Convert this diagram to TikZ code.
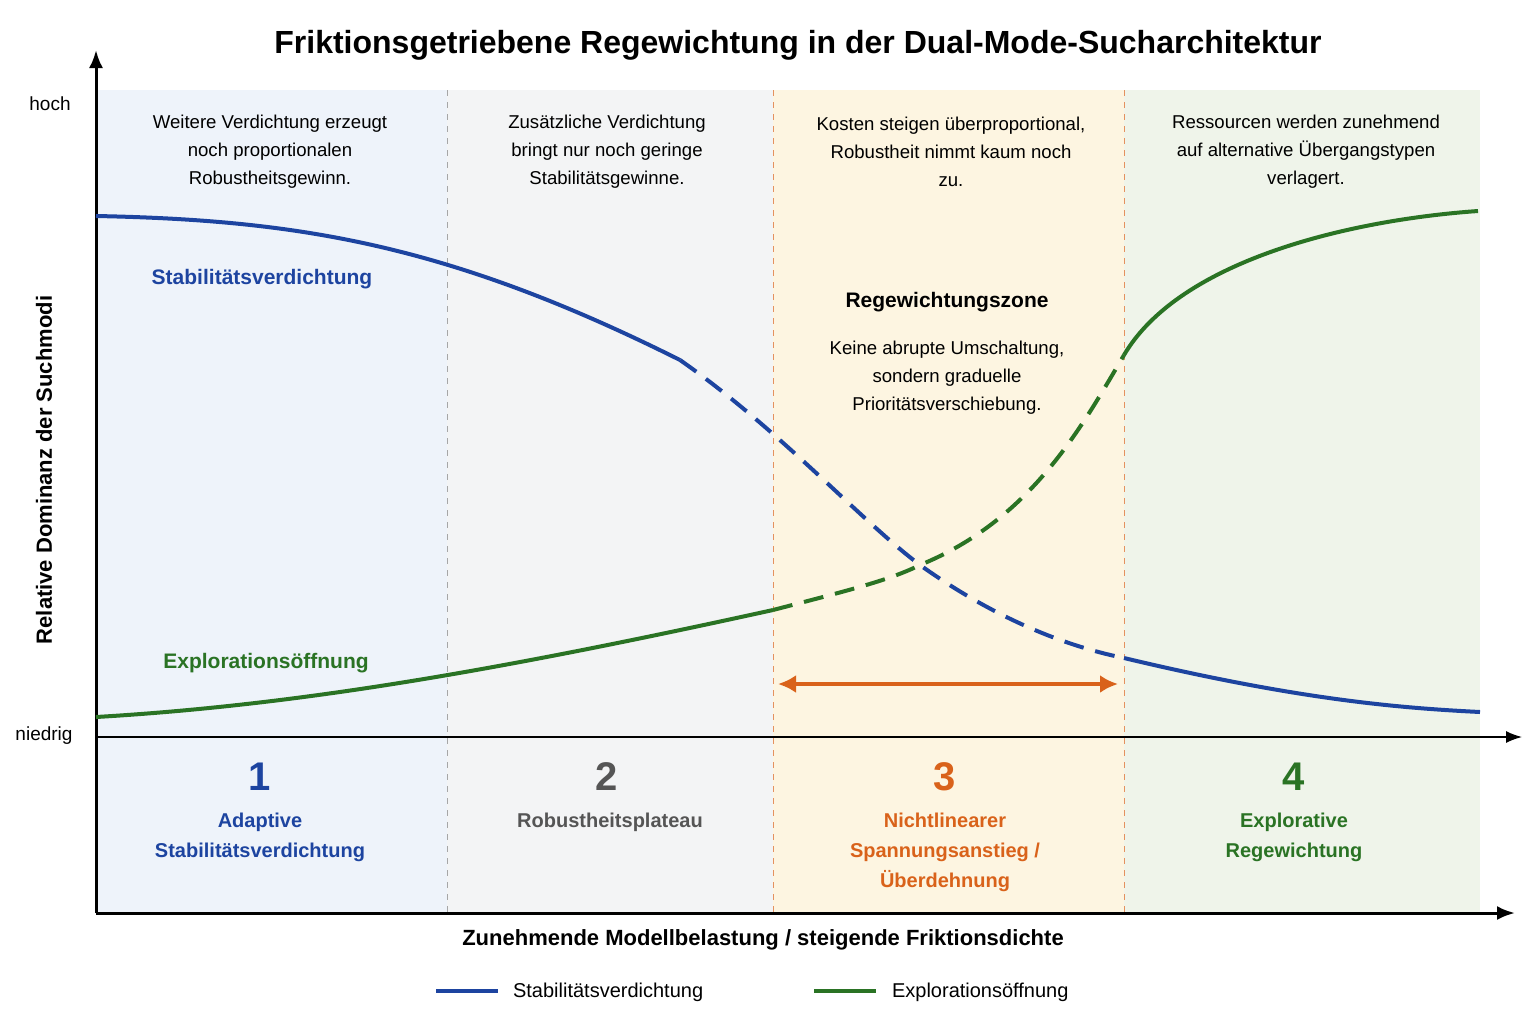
\documentclass[tikz,border=0pt]{standalone}
\usepackage{fontspec}
\setmainfont{Liberation Sans}
\usetikzlibrary{arrows.meta}
\definecolor{cblue}{HTML}{1D44A0}
\definecolor{cgreen}{HTML}{2A7324}
\definecolor{corange}{HTML}{D9621A}
\definecolor{cgray}{HTML}{555555}
\definecolor{bz1}{HTML}{EEF3FA}
\definecolor{bz2}{HTML}{F3F4F5}
\definecolor{bz3}{HTML}{FDF5E1}
\definecolor{bz4}{HTML}{EFF4EA}
\tikzset{
 desc/.style={align=center,font=\fontsize{9.3}{14}\selectfont},
 zlab/.style={align=center,font=\bfseries\fontsize{10}{15}\selectfont},
 num/.style={font=\bfseries\fontsize{20}{24}\selectfont},
 axis/.style={line width=1.5pt,-{Latex[length=9pt,width=7pt]}},
 div/.style={dashed,line width=0.5pt},
 crv/.style={line width=2pt}
}
\begin{document}
\begin{tikzpicture}[x=0.5pt,y=-0.5pt]
\useasboundingbox (0,0) rectangle (1536,1024);
\fill[white] (0,0) rectangle (1536,1024);
\fill[bz1] (96,90) rectangle (447,913);
\fill[bz2] (447,90) rectangle (773,913);
\fill[bz3] (773,90) rectangle (1124,913);
\fill[bz4] (1124,90) rectangle (1480,913);
\draw[div,gray!70] (447,90) -- (447,913);
\draw[div,corange!70] (773,90) -- (773,913);
\draw[div,corange!70] (1124,90) -- (1124,913);
\node[font=\bfseries\fontsize{16}{20}\selectfont] (title) at (798,45) {Friktionsgetriebene Regewichtung in der Dual-Mode-Sucharchitektur};
% axes
\coordinate (o) at (96,913);
\coordinate (ytop) at (96,50);
\coordinate (xend) at (1515,913);
\coordinate (ml) at (96,737);
\coordinate (mr) at (1522,737);
\draw[line width=0.7pt,-{Latex[length=8pt,width=6pt]}] (ml) -- (mr);
\draw[axis] (o) -- (ytop);
\draw[axis] (o) -- (xend);
\node[font=\fontsize{9.5}{12}\selectfont] (hoch) at (50,104) {hoch};
\node[font=\fontsize{9.5}{12}\selectfont] (niedrig) at (44,736) {niedrig};
\node[rotate=90,font=\bfseries\fontsize{11}{13}\selectfont] (ylab) at (44,470) {Relative Dominanz der Suchmodi};
\node[font=\bfseries\fontsize{11}{13}\selectfont] (xlab) at (763,940) {Zunehmende Modellbelastung / steigende Friktionsdichte};
% descriptions
\node[desc] (d1) at (270,152) {Weitere Verdichtung erzeugt\\noch proportionalen\\Robustheitsgewinn.};
\node[desc] (d2) at (607,152) {Zusätzliche Verdichtung\\bringt nur noch geringe\\Stabilitätsgewinne.};
\node[desc] (d3) at (951,152) {Kosten steigen überproportional,\\Robustheit nimmt kaum noch\\zu.};
\node[desc] (d4) at (1306,152) {Ressourcen werden zunehmend\\auf alternative Übergangstypen\\verlagert.};
\node[font=\bfseries\fontsize{10.5}{13}\selectfont] (rz) at (947,302) {Regewichtungszone};
\node[desc] (rzd) at (947,378) {Keine abrupte Umschaltung,\\sondern graduelle\\Prioritätsverschiebung.};
% curves
\draw[crv,cblue] (96,216) .. controls (300,220) and (450,245) .. (680,360);
\draw[crv,cblue,dash pattern=on 10pt off 6pt] (680,360) .. controls (780,430) and (860,520) .. (920,565) .. controls (990,615) and (1060,645) .. (1124,658);
\draw[crv,cblue] (1124,658) .. controls (1300,700) and (1400,708) .. (1480,712);
\draw[crv,cgreen] (96,717) .. controls (300,705) and (500,670) .. (773,610);
\draw[crv,cgreen,dash pattern=on 10pt off 6pt] (773,610) .. controls (850,590) and (890,580) .. (920,565) .. controls (1030,520) and (1080,430) .. (1124,355);
\draw[crv,cgreen] (1124,355) .. controls (1180,260) and (1350,220) .. (1478,211);
\node[font=\bfseries\fontsize{10.5}{13}\selectfont,text=cblue] (ls) at (262,279) {Stabilitätsverdichtung};
\node[font=\bfseries\fontsize{10.5}{13}\selectfont,text=cgreen] (le) at (266,663) {Explorationsöffnung};
% orange arrow
\coordinate (a1) at (778,684);
\coordinate (a2) at (1118,684);
\draw[corange,line width=1.8pt,{Latex[length=9pt,width=9pt]}-{Latex[length=9pt,width=9pt]}] (a1) -- (a2);
% zone labels
\node[num,text=cblue] (n1) at (260,777) {1};
\node[zlab,text=cblue,anchor=north] (z1) at (260,806) {Adaptive\\Stabilitätsverdichtung};
\node[num,text=cgray] (n2) at (607,777) {2};
\node[zlab,text=cgray,anchor=north] (z2) at (610,806) {Robustheitsplateau};
\node[num,text=corange] (n3) at (945,777) {3};
\node[zlab,text=corange,anchor=north] (z3) at (945,806) {Nichtlinearer\\Spannungsanstieg /\\Überdehnung};
\node[num,text=cgreen] (n4) at (1294,777) {4};
\node[zlab,text=cgreen,anchor=north] (z4) at (1294,806) {Explorative\\Regewichtung};
% legend
\coordinate (lb1) at (436,991); \coordinate (lb2) at (498,991);
\draw[crv,cblue,line width=2.2pt] (lb1) -- (lb2);
\node[anchor=west,font=\fontsize{10}{12}\selectfont] (lbt) at (506,992) {Stabilitätsverdichtung};
\coordinate (lg1) at (814,991); \coordinate (lg2) at (876,991);
\draw[crv,cgreen,line width=2.2pt] (lg1) -- (lg2);
\node[anchor=west,font=\fontsize{10}{12}\selectfont] (lgt) at (885,992) {Explorationsöffnung};
\end{tikzpicture}
\end{document}
